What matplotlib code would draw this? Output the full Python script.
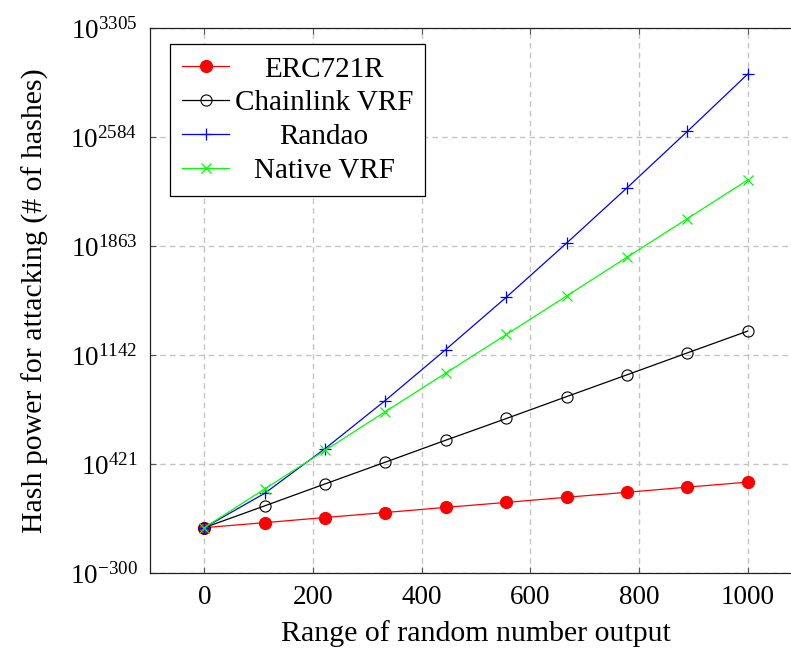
import matplotlib
matplotlib.use("Agg")
import matplotlib.pyplot as plt

plt.rcParams['font.family'] = ['Liberation Serif', 'DejaVu Serif']
plt.rcParams['mathtext.fontset'] = 'custom'
plt.rcParams['mathtext.rm'] = 'Liberation Serif'
plt.rcParams['mathtext.it'] = 'Liberation Serif:italic'
plt.rcParams['mathtext.bf'] = 'Liberation Serif:bold'

# data (y values are base-10 exponents of hash power)
x_range = [0, 111, 222, 333, 444, 556, 667, 778, 889, 1000]
erc721r = [0, 33, 67, 100, 134, 167, 201, 234, 268, 301]
chainlink = [0, 144, 289, 433, 578, 722, 867, 1011, 1156, 1300]
randao = [0, 227, 522, 841, 1177, 1525, 1883, 2248, 2621, 3000]
native_vrf = [0, 256, 511, 767, 1022, 1278, 1533, 1789, 2044, 2300]

labels = ["ERC721R", "Chainlink VRF", "Randao", "Native VRF"]
yticks = [-300, 421, 1142, 1863, 2584, 3305]
xticks = [0, 200, 400, 600, 800, 1000]

W, H = 791, 648
fig = plt.figure(figsize=(W / 100, H / 100), dpi=100)
ax_l, ax_r, ax_t, ax_b = 150, 802, 28, 573
ax = fig.add_axes([ax_l / W, 1 - ax_b / H, (ax_r - ax_l) / W, (ax_b - ax_t) / H])

ax.plot(x_range, erc721r, color=(1, 0, 0), lw=0.9, marker='o', ms=8.5,
        markerfacecolor=(1, 0, 0), markeredgecolor=(1, 0, 0), label=labels[0], zorder=3)
ax.plot(x_range, chainlink, color='black', lw=0.9, marker='o', ms=8,
        markerfacecolor='none', markeredgecolor='black', markeredgewidth=0.8, label=labels[1], zorder=3)
ax.plot(x_range, randao, color=(0, 0, 1), lw=0.9, marker='+', ms=9,
        markeredgewidth=0.9, label=labels[2], zorder=3)
ax.plot(x_range, native_vrf, color=(0, 1, 0), lw=0.9, marker='x', ms=6.5,
        markeredgewidth=0.9, label=labels[3], zorder=3)

ax.set_xlim(-100, 1100)
ax.set_ylim(-300, 3305)
ax.set_xticks(xticks)
ax.set_xticklabels([str(v) for v in xticks])
ax.set_yticks(yticks)
ax.set_yticklabels([r'$10^{%d}$' % v for v in yticks])

ax.grid(True, color='#c4c4c4', linestyle=(0, (4, 3)), linewidth=1.0, zorder=0)
ax.set_axisbelow(True)
ax.tick_params(direction='in', length=4, width=0.8, color='#555555',
               labelsize=19.5, top=True, right=True, pad=9)
for s in ax.spines.values():
    s.set_linewidth(0.9)
    s.set_color('#222222')

ax.set_xlabel("Range of random number output", fontsize=21.5, labelpad=7)
ax.set_ylabel("Hash power for attacking (# of hashes)", fontsize=21.5, labelpad=15)

pw = ax_r - ax_l
ph = ax_b - ax_t
leg = ax.legend(loc='upper left', bbox_to_anchor=((170 - ax_l) / pw, 1 - (44 - ax_t) / ph),
                borderaxespad=0, fontsize=21, frameon=True, fancybox=False,
                edgecolor='black', framealpha=1, numpoints=1, handlelength=1.6,
                handletextpad=0.2, labelspacing=0.25, borderpad=0.42)
leg.get_frame().set_linewidth(0.9)

# center legend labels like pgfplots
fig.canvas.draw()
r = fig.canvas.get_renderer()
texts = leg.get_texts()
widths = [t.get_window_extent(r).width for t in texts]
wmax = max(widths)
for t, w in zip(texts, widths):
    t.set_position(((wmax - w) / 2, 0))

fig.savefig("out.png", dpi=100)
